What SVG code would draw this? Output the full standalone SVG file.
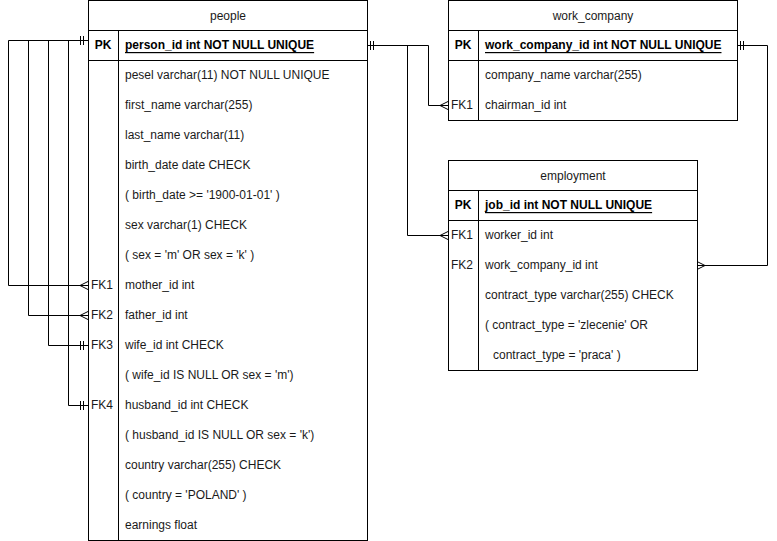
<svg xmlns="http://www.w3.org/2000/svg" width="777" height="541" viewBox="0 0 777 541">
<style>
.box{fill:#fff;stroke:#000;stroke-width:1}
.ln{fill:none;stroke:#000;stroke-width:1}
text{font-family:"Liberation Sans",Arial,sans-serif;font-size:12px;fill:#1a1a1a;dominant-baseline:central}
.h{text-anchor:middle}
.k{text-anchor:middle}
.pk{font-weight:bold;text-decoration:underline;fill:#000}
.pkl{font-weight:bold;text-anchor:middle;fill:#000}
</style>
<rect width="777" height="541" fill="#fff"/>
<g id="connectors" class="ln">
  <path d="M88.5 40.5 H8.5 V285.5 H88.5"/>
  <path d="M28.5 40.5 V315.5 H88.5"/>
  <path d="M48.5 40.5 V345.5 H88.5"/>
  <path d="M68.5 40.5 V405.5 H88.5"/>
  <path d="M80.5 36 V45 M83.5 36 V45"/>
  <path d="M80 285.5 L88 281.5 M80 285.5 L88 289.5"/>
  <path d="M80 315.5 L88 311.5 M80 315.5 L88 319.5"/>
  <path d="M80.5 341 V350 M83.5 341 V350"/>
  <path d="M80.5 401 V410 M83.5 401 V410"/>
  <path d="M367 45.5 H428.5 V105.5 H448"/>
  <path d="M370.5 41 V50 M373.5 41 V50"/>
  <path d="M440 105.5 L448 101.5 M440 105.5 L448 109.5"/>
  <path d="M407.5 45.5 V235.5 H448"/>
  <path d="M440 235.5 L448 231.5 M440 235.5 L448 239.5"/>
  <path d="M737 45.5 H767.5 V265.5 H697"/>
  <path d="M740.5 41 V50 M743.5 41 V50"/>
  <path d="M705 265.5 L697 261.5 M705 265.5 L697 269.5"/>
</g>
<g id="people">
  <rect class="box" x="88.5" y="0.5" width="279" height="540"/>
  <path class="ln" d="M88.5 30.5 H367.5 M88.5 60.5 H367.5 M118.5 30.5 V540.5"/>
  <text class="h" x="228" y="16">people</text>
  <text class="pkl" x="103" y="45">PK</text>
  <text class="pk" x="125" y="45">person_id int NOT NULL UNIQUE</text>
  <text x="125" y="75">pesel varchar(11) NOT NULL UNIQUE</text>
  <text x="125" y="105">first_name varchar(255)</text>
  <text x="125" y="135">last_name varchar(11)</text>
  <text x="125" y="165">birth_date date CHECK</text>
  <text x="125" y="195">( birth_date &gt;= '1900-01-01' )</text>
  <text x="125" y="225">sex varchar(1) CHECK</text>
  <text x="125" y="255">( sex = 'm' OR sex = 'k' )</text>
  <text class="k" x="102" y="285">FK1</text>
  <text x="125" y="285">mother_id int</text>
  <text class="k" x="102" y="315">FK2</text>
  <text x="125" y="315">father_id int</text>
  <text class="k" x="102" y="345">FK3</text>
  <text x="125" y="345">wife_id int CHECK</text>
  <text x="125" y="375">( wife_id IS NULL OR sex = 'm')</text>
  <text class="k" x="102" y="405">FK4</text>
  <text x="125" y="405">husband_id int CHECK</text>
  <text x="125" y="435">( husband_id IS NULL OR sex = 'k')</text>
  <text x="125" y="465">country varchar(255) CHECK</text>
  <text x="125" y="495">( country = 'POLAND' )</text>
  <text x="125" y="525">earnings float</text>
</g>
<g id="work_company">
  <rect class="box" x="448.5" y="0.5" width="289" height="120"/>
  <path class="ln" d="M448.5 30.5 H737.5 M448.5 60.5 H737.5 M478.5 30.5 V120.5"/>
  <text class="h" x="593" y="16">work_company</text>
  <text class="pkl" x="463" y="45">PK</text>
  <text class="pk" x="485" y="45">work_company_id int NOT NULL UNIQUE</text>
  <text x="485" y="75">company_name varchar(255)</text>
  <text class="k" x="462" y="105">FK1</text>
  <text x="485" y="105">chairman_id int</text>
</g>
<g id="employment">
  <rect class="box" x="448.5" y="160.5" width="249" height="210"/>
  <path class="ln" d="M448.5 190.5 H697.5 M448.5 220.5 H697.5 M478.5 190.5 V370.5"/>
  <text class="h" x="573" y="176">employment</text>
  <text class="pkl" x="463" y="205">PK</text>
  <text class="pk" x="485" y="205">job_id int NOT NULL UNIQUE</text>
  <text class="k" x="462" y="235">FK1</text>
  <text x="485" y="235">worker_id int</text>
  <text class="k" x="462" y="265">FK2</text>
  <text x="485" y="265">work_company_id int</text>
  <text x="485" y="295">contract_type varchar(255) CHECK</text>
  <text x="485" y="325">( contract_type = 'zlecenie' OR</text>
  <text x="493" y="355">contract_type = 'praca' )</text>
</g>
</svg>
